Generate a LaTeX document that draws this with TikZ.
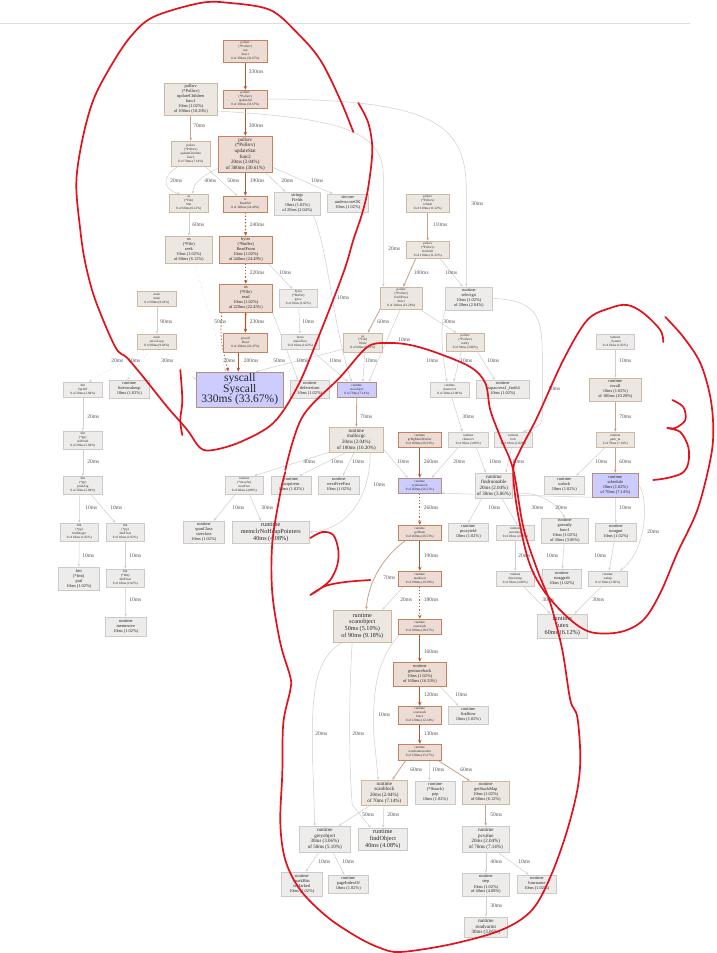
\documentclass[tikz,border=0pt]{standalone}
\usepackage{fontspec}
\setmainfont{Liberation Serif}
\usetikzlibrary{arrows.meta}
\definecolor{hotfill}{HTML}{EDDCD4}
\definecolor{hotline}{HTML}{B2582B}
\definecolor{warmfill}{HTML}{EDE7E1}
\definecolor{warmline}{HTML}{CDB8A2}
\definecolor{coldfill}{HTML}{EDECEB}
\definecolor{coldline}{HTML}{CCCAC8}
\definecolor{lavfill}{HTML}{CCCCFF}
\definecolor{lavline}{HTML}{B58E7E}
\definecolor{tanline}{HTML}{C9A287}
\definecolor{edgegray}{HTML}{CFCFCF}
\definecolor{lbltext}{HTML}{555555}
\definecolor{ink}{HTML}{E3111B}
\pgfdeclarelayer{bg}
\pgfdeclarelayer{edgelayer}
\pgfdeclarelayer{ink}
\pgfsetlayers{bg,edgelayer,main,ink}
\tikzset{
  fn/.style={draw, rectangle, align=center, inner sep=0.4pt, text=black!85, line width=0.5pt},
  hot/.style={fn, draw=hotline!75, fill=hotfill},
  warm/.style={fn, draw=warmline, fill=warmfill},
  cold/.style={fn, draw=coldline, fill=coldfill},
  lav/.style={fn, draw=lavline, fill=lavfill},
  sz/.style 2 args={minimum width=#1pt, minimum height=#2pt},
  lv0/.style={font=\fontsize{3.3}{3.9}\selectfont},
  lv1/.style={font=\fontsize{4.4}{5}\selectfont},
  lv2/.style={font=\fontsize{5}{5.6}\selectfont},
  lv3/.style={font=\fontsize{6.2}{6.9}\selectfont},
  lv4/.style={font=\fontsize{11.5}{10.5}\selectfont},
  lbl/.style={font=\fontsize{5.5}{6}\selectfont, text=lbltext, inner sep=0pt},
  grayedge/.style={draw=edgegray, line width=0.5pt, -{Stealth[length=3pt,width=2.4pt]}},
  tanedge/.style={draw=tanline, line width=0.8pt, -{Stealth[length=3.2pt,width=2.6pt]}},
  hotedge/.style={draw=hotline, line width=1.3pt, -{Stealth[length=4pt,width=3.4pt]}},
  redink/.style={draw=ink, line width=1.7pt, line cap=round, line join=round},
}

\begin{document}
\begin{tikzpicture}[x=1pt, y=-1pt]
\begin{pgfonlayer}{bg}
  \fill[white] (0,0) rectangle (716,953);
  \draw[edgegray!70, line width=0.6pt] (0,23) -- (690,23);
\end{pgfonlayer}
\useasboundingbox (0,0) rectangle (716,953);

% pollsrv part
\node[hot, lv0, sz={44}{22}] (run) at (245,51) {pollsrv\\(*Pollsrv)\\run\\func1\\0 of 330ms (33.67\%)};
\node[hot, lv0, sz={44}{18}] (upall) at (245,99) {pollsrv\\(*Pollsrv)\\updateAll\\0 of 330ms (33.67\%)};
\node[warm, lv1, sz={53}{32}] (updch) at (190.5,99) {pollsrv\\(*Pollsrv)\\updateChildren\\func1\\10ms (1.02\%)\\of 100ms (10.20\%)};
\node[warm, lv0, sz={39}{25}] (updst) at (190.5,153.5) {pollsrv\\(*Pollsrv)\\updateChildren\\func2\\0 of 70ms (7.14\%)};
\node[hot, lv2, sz={54}{36}] (updstat) at (245,154) {pollsrv\\(*Pollsrv)\\updateStat\\func2\\20ms (2.04\%)\\of 300ms (30.61\%)};
\node[warm, lv0, sz={39}{18}] (fstat) at (188.5,203) {os\\(*File)\\Stat\\0 of 60ms (6.12\%)};
\node[hot, lv0, sz={44}{16}] (osread) at (245,204) {io\\ReadAll\\0 of 240ms (24.49\%)};
\node[cold, lv1, sz={46}{23}] (fields) at (297,203.5) {strings\\Fields\\10ms (1.02\%)\\of 20ms (2.04\%)};
\node[cold, lv1, sz={41}{18}] (uscore) at (347.5,203) {strconv\\underscoreOK\\10ms (1.02\%)};
\node[warm, lv0, sz={43}{18}] (top2) at (427.5,203) {pollsrv\\(*Pollsrv)\\refresh\\0 of 110ms (11.22\%)};
\node[warm, lv0, sz={43}{17}] (fetchall) at (427.5,249.5) {pollsrv\\(*Pollsrv)\\fetchAll\\0 of 110ms (11.22\%)};
\node[warm, lv1, sz={47}{27}] (fseek) at (188.5,249.5) {os\\(*File)\\seek\\10ms (1.02\%)\\of 60ms (6.12\%)};
\node[hot, lv1, sz={53}{27}] (readfrom) at (245.5,249.5) {bytes\\(*Buffer)\\ReadFrom\\10ms (1.02\%)\\of 240ms (24.49\%)};
\node[cold, lv0, sz={38}{18}] (grow) at (298,298) {bytes\\(*Buffer)\\grow\\0 of 10ms (1.02\%)};
\node[hot, lv1, sz={53}{28}] (osread2) at (245.5,298) {os\\(*File)\\read\\10ms (1.02\%)\\of 220ms (22.45\%)};
\node[warm, lv0, sz={39}{15}] (main1) at (156.5,298.5) {main\\main\\0 of 90ms (9.18\%)};
\node[warm, lv0, sz={42}{22}] (fetch) at (401,298) {pollsrv\\(*Pollsrv)\\fetchProcs\\func1\\0 of 120ms (12.24\%)};
\node[cold, lv1, sz={47}{23}] (selectgo) at (468.5,298.5) {runtime\\selectgo\\10ms (1.02\%)\\of 20ms (2.04\%)};
\node[warm, lv0, sz={39}{15}] (main2) at (156.5,341.5) {main\\serveLoop\\0 of 90ms (9.18\%)};
\node[cold, lv0, sz={38}{15}] (makeslice) at (300,341.5) {bytes\\makeSlice\\0 of 10ms (1.02\%)};
\node[hot, lv0, sz={44}{19}] (sysread) at (245,342.5) {syscall\\Read\\0 of 230ms (23.47\%)};
\node[warm, lv0, sz={39}{19}] (fwrite) at (362.5,342.5) {os\\(*File)\\Write\\0 of 60ms (6.12\%)};
\node[warm, lv0, sz={38}{18}] (r1) at (465,342) {pollsrv\\(*Pollsrv)\\notify\\0 of 30ms (3.06\%)};
\node[cold, lv0, sz={38}{15}] (sysmain) at (615,341.5) {runtime\\\_System\\0 of 10ms (1.02\%)};
\node[lav, lv4, sz={87}{35}, line width=0.9pt] (sysys) at (239.5,389.5) {syscall\\Syscall\\330ms (33.67\%)};

% fmt chain
\node[cold, lv0, sz={39}{15}] (fmt1) at (82.5,389.5) {fmt\\Sprintf\\0 of 20ms (2.04\%)};
\node[cold, lv1, sz={40}{18}] (futexw) at (129,389) {runtime\\futexwakeup\\10ms (1.02\%)};
\node[cold, lv0, sz={39}{18}] (fmt2) at (82.5,440) {fmt\\(*pp)\\doPrintf\\0 of 20ms (2.04\%)};
\node[cold, lv0, sz={39}{18}] (fmt3) at (82.5,485) {fmt\\(*pp)\\printArg\\0 of 20ms (2.04\%)};
\node[cold, lv0, sz={38}{18}] (fmt4) at (79,532) {fmt\\(*pp)\\fmtInteger\\0 of 10ms (1.02\%)};
\node[cold, lv0, sz={38}{18}] (fmt5) at (125,532) {fmt\\(*pp)\\fmtFloat\\0 of 10ms (1.02\%)};
\node[cold, lv1, sz={41}{23}] (pad) at (78.5,578.5) {fmt\\(*fmt)\\pad\\10ms (1.02\%)};
\node[cold, lv0, sz={38}{18}] (fmt6) at (125,578) {fmt\\(*fmt)\\fmtFloat\\0 of 10ms (1.02\%)};
\node[cold, lv1, sz={41}{19}] (memmove) at (125.5,626.5) {runtime\\memmove\\10ms (1.02\%)};

% runtime part
\node[cold, lv1, sz={39}{18}] (deferret) at (309.5,389) {runtime\\deferreturn\\10ms (1.02\%)};
\node[lav, lv0, sz={39}{15}] (newobj) at (356.5,389.5) {runtime\\newobject\\0 of 70ms (7.14\%)};
\node[cold, lv0, sz={39}{15}] (chanrecv1) at (449.5,389.5) {runtime\\chanrecv1\\0 of 30ms (3.06\%)};
\node[cold, lv1, sz={53}{18}] (mapacc) at (502.5,389) {runtime\\mapaccess1\_fast64\\10ms (1.02\%)};
\node[warm, lv1, sz={52}{23}] (mcall) at (615,389.5) {runtime\\mcall\\10ms (1.02\%)\\of 100ms (10.20\%)};
\node[warm, lv2, sz={54}{25}] (mallocgc) at (356,439.5) {runtime\\mallocgc\\20ms (2.04\%)\\of 100ms (10.20\%)};
\node[hot, lv0, sz={43}{15}] (gcbg) at (419.5,439.5) {runtime\\gcBgMarkWorker\\0 of 260ms (26.53\%)};
\node[cold, lv0, sz={40}{15}] (chanrecv) at (468,439.5) {runtime\\chanrecv\\0 of 30ms (3.06\%)};
\node[cold, lv0, sz={38}{15}] (lockw) at (513,439.5) {runtime\\lock\\0 of 10ms (1.02\%)};
\node[warm, lv0, sz={38}{15}] (parkm) at (615,439.5) {runtime\\park\_m\\0 of 70ms (7.14\%)};
\node[cold, lv0, sz={38}{18}] (nextfree) at (244,485) {runtime\\(*mcache)\\nextFree\\0 of 40ms (4.08\%)};
\node[cold, lv1, sz={40}{18}] (acquirem) at (291,485) {runtime\\acquirem\\10ms (1.02\%)};
\node[cold, lv1, sz={41}{18}] (nff) at (338.5,485) {runtime\\nextFreeFast\\10ms (1.02\%)};
\node[lav, lv0, sz={43}{15}] (sysstack) at (419.5,485.5) {runtime\\systemstack\\0 of 260ms (26.53\%)};
\node[cold, lv2, sz={37}{25}] (findrun) at (493.5,485.5) {runtime\\findrunnable\\20ms (2.04\%)\\of 30ms (3.06\%)};
\node[cold, lv1, sz={40}{18}] (unlock) at (564,485) {runtime\\unlock\\10ms (1.02\%)};
\node[lav, lv1, sz={46}{24}] (sched) at (615,485) {runtime\\schedule\\10ms (1.02\%)\\of 70ms (7.14\%)};
\node[cold, lv1, sz={41}{22}] (spancl) at (203.5,532) {runtime\\spanClass\\sizeclass\\10ms (1.02\%)};
\node[cold, lv3, sz={77}{22}] (memclr) at (270.5,532) {runtime\\memclrNoHeapPointers\\40ms (4.08\%)};
\node[hot, lv0, sz={43}{15}] (gcdrain) at (419.5,532.5) {runtime\\gcDrain\\0 of 260ms (26.53\%)};
\node[cold, lv1, sz={40}{18}] (procy) at (468,532) {runtime\\procyield\\10ms (1.02\%)};
\node[cold, lv0, sz={38}{15}] (futexsl) at (515,532.5) {runtime\\notesleep\\0 of 20ms (2.04\%)};
\node[cold, lv1, sz={47}{25}] (goready) at (564.5,530.5) {runtime\\goready\\func1\\10ms (1.02\%)\\of 30ms (3.06\%)};
\node[cold, lv1, sz={41}{18}] (runqst) at (615.5,532) {runtime\\runqput\\10ms (1.02\%)};
\node[hot, lv0, sz={43}{15}] (markroot) at (419.5,578.5) {runtime\\markroot\\0 of 190ms (19.39\%)};
\node[cold, lv0, sz={38}{15}] (futex1) at (515,578.5) {runtime\\futexsleep\\0 of 30ms (3.06\%)};
\node[cold, lv1, sz={39}{19}] (runqgrab) at (561.5,578.5) {runtime\\runqgrab\\10ms (1.02\%)};
\node[cold, lv0, sz={39}{15}] (wakep) at (607.5,578.5) {runtime\\wakep\\0 of 30ms (3.06\%)};
\node[cold, lv3, sz={50}{24}] (futex) at (562,626) {runtime\\futex\\60ms (6.12\%)};
\node[warm, lv3, sz={58}{32}] (scanobj) at (362,626) {runtime\\scanobject\\50ms (5.10\%)\\of 90ms (9.18\%)};
\node[hot, lv0, sz={43}{15}] (scanstack) at (419.5,626.5) {runtime\\scanstack\\0 of 180ms (18.37\%)};
\node[hot, lv1, sz={53}{24}] (gentrace) at (419.5,674) {runtime\\gentraceback\\10ms (1.02\%)\\of 160ms (16.33\%)};
\node[hot, lv0, sz={43}{18}] (ssfunc) at (419.5,715) {runtime\\scanstack\\func1\\0 of 120ms (12.24\%)};
\node[cold, lv1, sz={40}{18}] (findfunc) at (468,715) {runtime\\findfunc\\10ms (1.02\%)};
\node[hot, lv0, sz={43}{16}] (scanfw) at (419.5,752) {runtime\\scanframeworker\\0 of 130ms (13.27\%)};
\node[warm, lv2, sz={46}{25}] (scanblk) at (384,792.5) {runtime\\scanblock\\20ms (2.04\%)\\of 70ms (7.14\%)};
\node[cold, lv1, sz={40}{23}] (lfpop) at (435,792.5) {runtime\\(*lfstack)\\pop\\10ms (1.02\%)};
\node[warm, lv1, sz={47}{23}] (stackmap) at (485.5,792.5) {runtime\\getStackMap\\10ms (1.02\%)\\of 60ms (6.12\%)};
\node[cold, lv2, sz={51}{26}] (greyobj) at (324.5,839) {runtime\\greyobject\\30ms (3.06\%)\\of 50ms (5.10\%)};
\node[cold, lv3, sz={49}{22}] (findobj) at (382.5,839) {runtime\\findObject\\40ms (4.08\%)};
\node[cold, lv2, sz={47}{26}] (pcvalue) at (485.5,839) {runtime\\pcvalue\\20ms (2.04\%)\\of 70ms (7.14\%)};
\node[cold, lv1, sz={41}{24}] (markbits) at (301.5,884) {runtime\\markBits\\isMarked\\10ms (1.02\%)};
\node[cold, lv1, sz={40}{18}] (pageidx) at (348,884) {runtime\\pageIndexOf\\10ms (1.02\%)};
\node[cold, lv1, sz={47}{23}] (step) at (485.5,884.5) {runtime\\step\\10ms (1.02\%)\\of 40ms (4.08\%)};
\node[cold, lv1, sz={39}{18}] (funcname) at (536.5,884) {runtime\\funcname\\10ms (1.02\%)};
\node[cold, lv2, sz={43}{20}] (readvar) at (485.5,927) {runtime\\readvarint\\30ms (3.06\%)};

\begin{pgfonlayer}{edgelayer}
\draw[hotedge] (run) -- (upall) node[lbl] at (256,72) {330ms};
\draw[hotedge] (upall) -- (updstat) node[lbl] at (256,126) {300ms};
\draw[grayedge] (upall.east) .. controls (430,100) and (466,122) .. (466,190) -- ([xshift=-2.5pt]selectgo.north) node[lbl] at (477,204) {30ms};
\draw[grayedge] ([yshift=-12pt]updch.east) .. controls (330,118) and (383,128) .. (383,175) -- ([xshift=-18pt]fetch.north) node[lbl] at (394,249) {20ms};
\draw[tanedge] (updch) -- (updst) node[lbl] at (199,126) {70ms};
\draw[grayedge] ([xshift=-12pt]updst.south) .. controls (160,176) and (163,190) .. ([xshift=-9pt]fstat.north) node[lbl] at (176,181) {20ms};
\draw[grayedge] ([xshift=14pt]updst.south) -- ([xshift=-8pt]osread.north) node[lbl] at (233,181) {50ms};
\draw[grayedge] ([yshift=4pt]updstat.south west) .. controls (200,177) and (193,184) .. ([xshift=4pt]fstat.north) node[lbl] at (210,181) {40ms};
\draw[hotedge] (updstat) -- (osread) node[lbl] at (257,181) {190ms};
\draw[grayedge] ([xshift=20pt]updstat.south) -- ([xshift=-12pt]fields.north) node[lbl] at (287,181) {20ms};
\draw[grayedge] ([yshift=5pt]updstat.south east) -- ([xshift=-15pt]uscore.north) node[lbl] at (317,181) {10ms};
\draw[hotedge, dotted] (osread) -- (readfrom) node[lbl] at (257,225) {240ms};
\draw[grayedge] (fstat) -- (fseek) node[lbl] at (198,225) {60ms};
\draw[tanedge] (top2) -- (fetchall) node[lbl] at (440,225) {110ms};
\draw[tanedge] ([xshift=-12pt]fetchall.south) -- ([xshift=2pt]fetch.north) node[lbl] at (421,273) {100ms};
\draw[grayedge] ([xshift=12pt]fetchall.south) -- ([xshift=-6pt]selectgo.north) node[lbl] at (451,273) {10ms};
\draw[hotedge, dotted] (readfrom) -- (osread2) node[lbl] at (257,273) {220ms};
\draw[grayedge] ([xshift=22pt]readfrom.south) -- ([xshift=-6pt]grow.north) node[lbl] at (285,273) {10ms};
\draw[grayedge, dotted] ([xshift=6pt]fseek.south) -- ([xshift=-14pt]sysys.north) node[lbl] at (220,322) {50ms};
\draw[hotedge] (osread2) -- (sysread) node[lbl] at (257,322) {230ms};
\draw[grayedge] (grow) -- (makeslice) node[lbl] at (308,322) {10ms};
\draw[grayedge] (main1) -- (main2) node[lbl] at (166,322) {90ms};
\draw[grayedge, dotted] ([xshift=-11pt]main2.south) -- ([xshift=6pt]fmt1.north) node[lbl] at (117,361) {20ms};
\draw[grayedge, dotted] ([xshift=-6pt]main2.south) -- ([xshift=-2pt]futexw.north) node[lbl] at (134,361) {10ms};
\draw[grayedge, dotted] ([xshift=6pt]main2.south) -- ([yshift=-8pt]sysys.north west) node[lbl] at (167,361) {30ms};
\draw[hotedge] ([xshift=-7pt]sysread.south) -- ([xshift=-1.5pt]sysys.north) node[lbl] at (251,361) {200ms};
\draw[hotedge, dotted, line width=0.8pt] ([xshift=-24pt]osread2.south) .. controls (220,340) .. ([xshift=-11.5pt]sysys.north) node[lbl] at (229,361) {20ms};
\draw[grayedge] ([yshift=3pt]fwrite.south west) -- ([xshift=16pt]sysys.north) node[lbl] at (279,361) {50ms};
\draw[grayedge] (osread2.south east) -- ([xshift=-12pt]deferret.north) node[lbl] at (302,361) {10ms};
\draw[grayedge] ([xshift=10pt]makeslice.south) -- ([xshift=-9pt]newobj.north) node[lbl] at (335,361) {10ms};
\draw[grayedge] ([xshift=16pt]fields.south) .. controls (328,250) and (333,330) .. ([xshift=-5pt]newobj.north) node[lbl] at (343,298) {10ms};
\draw[grayedge] ([xshift=2pt]fwrite.south) -- ([xshift=6pt]newobj.north) node[lbl] at (371,361) {10ms};
\draw[tanedge] (fetch.south west) -- ([xshift=5pt]fwrite.north) node[lbl] at (383,322) {60ms};
\draw[grayedge] ([xshift=-1pt]fetch.south) -- ([xshift=12pt]newobj.north) node[lbl] at (404,340) {10ms};
\draw[grayedge] ([xshift=18pt]fetch.south) -- ([xshift=-9pt]r1.north) node[lbl] at (449,322) {30ms};
\draw[grayedge] (selectgo.south west) .. controls (438,330) and (444,365) .. ([xshift=-3pt]chanrecv1.north) node[lbl] at (432,361) {10ms};
\draw[grayedge] ([xshift=-4pt]r1.south) -- ([xshift=4pt]chanrecv1.north) node[lbl] at (466,361) {10ms};
\draw[grayedge] ([xshift=12pt]r1.south) -- ([xshift=-8pt]mapacc.north) node[lbl] at (493,361) {10ms};
\draw[grayedge] (selectgo.east) .. controls (540,300) and (542,320) .. (542,360) -- (542,410) .. controls (542,425) .. ([xshift=10pt]lockw.north) node[lbl] at (554,389) {10ms};
\draw[grayedge] ([xshift=2pt]chanrecv1.south) -- ([xshift=-6pt]chanrecv.north) node[lbl] at (468,417) {30ms};
\draw[tanedge] (newobj) -- (mallocgc) node[lbl] at (366,417) {70ms};
\draw[grayedge] (sysmain) -- (mcall) node[lbl] at (625,361) {10ms};
\draw[tanedge] (mcall) -- (parkm) node[lbl] at (625,417) {70ms};
\draw[tanedge] (parkm) -- (sched) node[lbl] at (625,462) {60ms};
\draw[grayedge] ([xshift=-10pt]parkm.south) -- ([xshift=12pt]unlock.north) node[lbl] at (601,462) {10ms};
\draw[grayedge] (mallocgc.south west) -- ([xshift=10pt]nextfree.north) node[lbl] at (309,462) {40ms};
\draw[grayedge] ([xshift=-10pt]mallocgc.south) -- ([xshift=8pt]acquirem.north) node[lbl] at (337,462) {10ms};
\draw[grayedge] ([xshift=-2pt]mallocgc.south) -- ([xshift=4pt]nff.north) node[lbl] at (358,462) {10ms};
\draw[grayedge] ([xshift=14pt]mallocgc.south) .. controls (370,500) and (345,530) .. (memclr.east) node[lbl] at (379,485) {10ms};
\draw[grayedge] ([yshift=3pt]mallocgc.south east) -- ([xshift=-12pt]sysstack.north) node[lbl] at (403,462) {10ms};
\draw[hotedge] (gcbg) -- (sysstack) node[lbl] at (431,462) {260ms};
\draw[grayedge] ([xshift=-10pt]chanrecv.south) -- ([xshift=12pt]sysstack.north) node[lbl] at (459,462) {20ms};
\draw[grayedge] ([xshift=8pt]chanrecv.south) -- ([xshift=-8pt]findrun.north) node[lbl] at (495,462) {10ms};
\draw[grayedge] (lockw) -- ([xshift=12pt]findrun.north) node[lbl] at (518,462) {10ms};
\draw[grayedge] (sched.south west) -- (sysstack.south east);
\draw[grayedge] ([xshift=-9pt]nextfree.south) -- ([xshift=10pt]spancl.north) node[lbl] at (238,508) {10ms};
\draw[grayedge] ([xshift=5pt]nextfree.south) -- ([xshift=-10pt]memclr.north) node[lbl] at (267,508) {30ms};
\draw[hotedge, dotted] (sysstack) -- (gcdrain) node[lbl] at (431,508) {260ms};
\draw[grayedge] ([xshift=-12pt]findrun.south) -- (procy.north) node[lbl] at (494,508) {10ms};
\draw[grayedge] ([yshift=4pt]findrun.south east) .. controls (530,490) and (553,498) .. (goready.north) node[lbl] at (537,508) {30ms};
\draw[grayedge] ([xshift=8pt]findrun.south) -- ([xshift=2pt]futexsl.north) node[lbl] at (561,508) {20ms};
\draw[grayedge] (sched) -- (runqst) node[lbl] at (625,508) {10ms};
\draw[grayedge] (sched.east) .. controls (648,495) and (648,550) .. ([xshift=12pt]wakep.north) node[lbl] at (653,532) {20ms};
\draw[hotedge] (gcdrain) -- (markroot) node[lbl] at (431,556) {190ms};
\draw[tanedge] ([xshift=-14pt]gcdrain.south) .. controls (385,555) and (368,580) .. ([xshift=4pt]scanobj.north) node[lbl] at (389,578) {70ms};
\draw[hotedge, dotted] (markroot) -- (scanstack) node[lbl] at (431,600) {180ms};
\draw[grayedge] ([xshift=-16pt]markroot.south) -- ([xshift=20pt]scanobj.north) node[lbl] at (406,600) {20ms};
\draw[grayedge] (goready) -- (runqgrab) node[lbl] at (552,556) {10ms};
\draw[grayedge] (futexsl) -- (futex1) node[lbl] at (524,556) {20ms};
\draw[grayedge] (runqst) -- (wakep) node[lbl] at (600,556) {10ms};
\draw[grayedge] ([xshift=8pt]futex1.south) -- ([xshift=-12pt]futex.north) node[lbl] at (548,600) {30ms};
\draw[grayedge] ([xshift=-6pt]wakep.south) -- ([xshift=12pt]futex.north) node[lbl] at (598,600) {30ms};
\draw[hotedge] (scanstack) -- (gentrace) node[lbl] at (431,652) {160ms};
\draw[hotedge] (gentrace) -- (ssfunc) node[lbl] at (431,695) {120ms};
\draw[grayedge] ([xshift=20pt]gentrace.south) -- ([xshift=-10pt]findfunc.north) node[lbl] at (461,695) {10ms};
\draw[hotedge] (ssfunc) -- (scanfw) node[lbl] at (431,734) {130ms};
\draw[tanedge] ([xshift=-14pt]scanfw.south) -- ([xshift=8pt]scanblk.north) node[lbl] at (416,770) {60ms};
\draw[grayedge] ([xshift=10pt]scanfw.south) -- ([xshift=-6pt]lfpop.north) node[lbl] at (438,770) {10ms};
\draw[tanedge] ([xshift=18pt]scanfw.south) -- ([xshift=-16pt]stackmap.north) node[lbl] at (466,770) {60ms};
\draw[grayedge] ([xshift=-14pt]scanblk.south) -- ([xshift=14pt]greyobj.north) node[lbl] at (368,815) {50ms};
\draw[grayedge] (scanblk) -- (findobj) node[lbl] at (393,815) {20ms};
\draw[grayedge] ([xshift=-20pt]scanobj.south) .. controls (312,660) and (312,700) .. (312,750) -- ([xshift=-10pt]greyobj.north) node[lbl] at (321,734) {20ms};
\draw[grayedge] ([xshift=-10pt]scanobj.south) .. controls (349,680) and (348,760) .. (352,805) -- ([xshift=-12pt]findobj.north) node[lbl] at (358,734) {20ms};
\draw[grayedge] ([xshift=-20pt]scanstack.south) .. controls (376,660) and (373,690) .. (373,730) -- ([xshift=-6pt]scanblk.north) node[lbl] at (384,715) {10ms};
\draw[grayedge] ([xshift=-6pt]greyobj.south) -- ([xshift=4pt]markbits.north) node[lbl] at (324,862) {10ms};
\draw[grayedge] ([xshift=8pt]greyobj.south) -- ([xshift=-4pt]pageidx.north) node[lbl] at (348,862) {10ms};
\draw[tanedge] (stackmap) -- (pcvalue) node[lbl] at (496,815) {50ms};
\draw[grayedge] (pcvalue) -- (step) node[lbl] at (496,862) {40ms};
\draw[grayedge] ([xshift=12pt]pcvalue.south) -- ([xshift=-8pt]funcname.north) node[lbl] at (524,862) {10ms};
\draw[grayedge] (step) -- (readvar) node[lbl] at (496,906) {30ms};
\draw[grayedge] (fmt1) -- (fmt2) node[lbl] at (93,417) {20ms};
\draw[grayedge] (fmt2) -- (fmt3) node[lbl] at (93,462) {20ms};
\draw[grayedge] ([xshift=-3pt]fmt3.south) -- (fmt4.north) node[lbl] at (91,508) {10ms};
\draw[grayedge] ([xshift=8pt]fmt3.south) -- ([xshift=-10pt]fmt5.north) node[lbl] at (116,508) {10ms};
\draw[grayedge] (fmt4) -- (pad) node[lbl] at (88,556) {10ms};
\draw[grayedge] (fmt5) -- (fmt6) node[lbl] at (135,556) {10ms};
\draw[grayedge] (fmt6) -- (memmove) node[lbl] at (135,600) {10ms};
\end{pgfonlayer}

% hand drawn marks
\begin{pgfonlayer}{ink}
\draw[redink] plot[smooth, tension=0.55] coordinates {(358,103) (368,123) (372,150) (368,187) (362,213) (353,240) (343,273) (317,340) (297,387) (273,423) (240,442) (213,450) (200,448) (187,430) (167,407) (143,377) (127,358) (115,347) (95,300) (85,263) (80,230) (76,183) (82,140) (93,100) (110,67) (130,37) (153,17) (200,3) (230,3) (270,10) (297,33) (320,60) (340,100) (353,132)};
\draw[redink] plot[smooth, tension=0.6] coordinates {(180,370) (182,400) (180,420) (182,435)};
\draw[redink] plot[smooth, tension=0.55] coordinates {(285,470) (302,417) (340,377) (367,347) (387,343) (410,345) (437,353) (470,367) (485,383) (490,410) (500,437) (513,470) (523,527) (537,570) (550,603) (562,650) (570,700) (577,717) (580,757) (577,790) (567,830) (553,870) (537,903) (520,920) (493,933) (447,945) (400,952) (380,948) (357,937) (327,917) (300,890) (285,860) (280,823) (282,773) (283,723) (290,690) (290,677) (280,643) (272,593) (272,543) (280,493) (285,472)};
\draw[redink] plot[smooth, tension=0.55] coordinates {(663,342) (660,330) (643,313) (627,305) (610,308) (587,320) (563,360) (537,417) (520,450) (513,470) (517,510) (528,560) (543,590) (567,617) (590,632) (620,632) (643,620) (660,593) (677,553) (697,510) (710,460) (713,430) (710,397) (700,363) (683,337) (665,317)};
\draw[redink] plot[smooth, tension=0.55] coordinates {(672,400) (683,407) (685,420) (675,428) (667,428) (680,432) (688,447) (688,463) (682,473) (667,478) (653,480)};
\draw[redink] plot[smooth, tension=0.55] coordinates {(310,538) (322,532) (333,535) (338,550) (337,565) (330,580) (318,590) (310,595) (325,586) (345,582) (370,580)};
\end{pgfonlayer}
\end{tikzpicture}
\end{document}
